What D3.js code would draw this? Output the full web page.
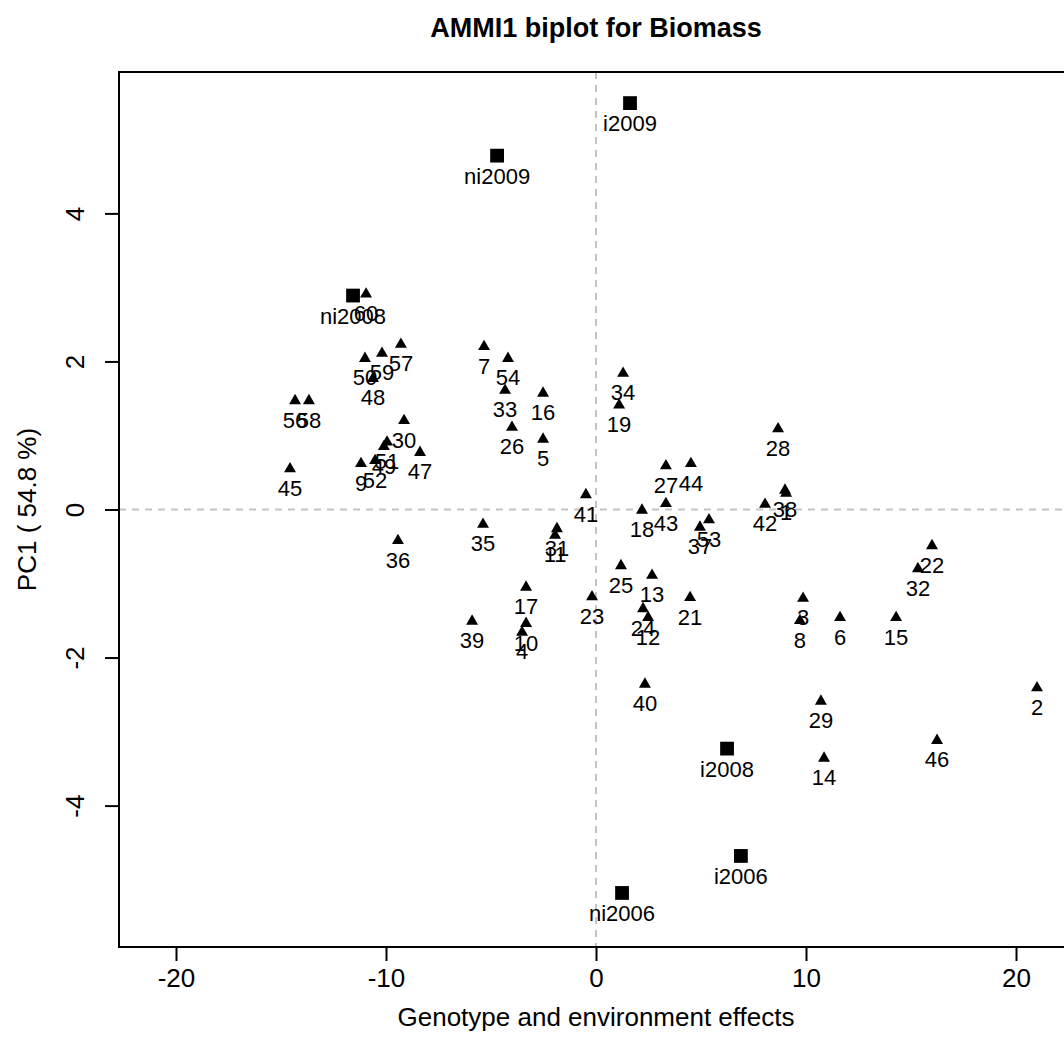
<!DOCTYPE html>
<html>
<head>
<meta charset="utf-8">
<script src="https://cdn.jsdelivr.net/npm/d3@7"></script>
<style>
  body { margin: 0; background: #fff; }
  text { font-family: "Liberation Sans", Arial, sans-serif; }
</style>
</head>
<body>
<svg id="biplot" width="1064" height="1061"></svg>
<script>
// genotypes (triangles)
const genoNames = ["1","2","3","4","5","6","7","8","9","10","11","12","13","14","15","16","17","18","19",
  "21","22","23","24","25","26","27","28","29","30","31","32","33","34","35","36","37","38","39","40",
  "41","42","43","44","45","46","47","48","49","50","51","52","53","54","56","57","58","59","60"];
const genoX = [9.05,21.0,9.86,-3.52,-2.52,11.62,-5.33,9.71,-11.19,-3.33,-1.95,2.48,2.67,10.86,14.29,-2.52,-3.33,2.19,1.10,
  4.48,16.0,-0.19,2.24,1.19,-4.0,3.33,8.67,10.71,-9.14,-1.86,15.33,-4.33,1.29,-5.38,-9.43,4.95,9.0,-5.90,2.33,
  -0.48,8.05,3.33,4.52,-14.57,16.24,-8.38,-10.62,-10.10,-11.0,-9.95,-10.52,5.38,-4.19,-14.33,-9.29,-13.67,-10.19,-10.95];
const genoY = [0.22,-2.41,-1.20,-1.66,0.95,-1.46,2.20,-1.50,0.62,-1.54,-0.35,-1.46,-0.89,-3.36,-1.46,1.57,-1.05,-0.01,1.41,
  -1.19,-0.49,-1.18,-1.34,-0.76,1.11,0.59,1.09,-2.59,1.20,-0.26,-0.80,1.61,1.84,-0.20,-0.42,-0.24,0.26,-1.51,-2.36,
  0.20,0.07,0.08,0.62,0.55,-3.12,0.77,1.77,0.85,2.04,0.91,0.66,-0.14,2.04,1.47,2.23,1.47,2.11,2.91];

// environments (squares)
const envNames = ["i2009","ni2009","ni2008","i2008","i2006","ni2006"];
const envX = [1.62,-4.71,-11.57,6.24,6.90,1.24];
const envY = [5.49,4.78,2.89,-3.23,-4.68,-5.18];

const xTicks = [-20,-10,0,10,20];
const yTicks = [-4,-2,0,2,4];

const svg = d3.select("#biplot");
const margin = { top: 72, left: 119 };
const plotRight = 1073; // box runs past the picture edge
const plotBottom = 947;

const x = d3.scaleLinear().domain([-22.714, 22.714]).range([margin.left, plotRight]);
const y = d3.scaleLinear().domain([-5.91, 5.91]).range([plotBottom, margin.top]);

// plain hyphen for negatives, like R
const fmt = d => String(d);

// reference lines
svg.append("line")
  .attr("x1", margin.left).attr("x2", plotRight)
  .attr("y1", y(0)).attr("y2", y(0))
  .attr("stroke", "#c4c4c4").attr("stroke-width", 2).attr("stroke-dasharray", "7,6");
svg.append("line")
  .attr("x1", x(0)).attr("x2", x(0))
  .attr("y1", margin.top).attr("y2", plotBottom)
  .attr("stroke", "#c4c4c4").attr("stroke-width", 2).attr("stroke-dasharray", "7,6");

// box
svg.append("rect")
  .attr("x", margin.left).attr("y", margin.top)
  .attr("width", plotRight - margin.left).attr("height", plotBottom - margin.top)
  .attr("fill", "none").attr("stroke", "#000").attr("stroke-width", 2);

// axes
const xAxis = svg.append("g")
  .attr("transform", `translate(0,${plotBottom})`)
  .call(d3.axisBottom(x).tickValues(xTicks).tickSize(14).tickPadding(8).tickFormat(fmt));
const yAxis = svg.append("g")
  .attr("transform", `translate(${margin.left},0)`)
  .call(d3.axisLeft(y).tickValues(yTicks).tickSize(14).tickFormat(fmt));
[xAxis, yAxis].forEach(a => {
  a.select(".domain").remove();
  a.selectAll(".tick line").attr("stroke", "#000").attr("stroke-width", 2);
  a.selectAll(".tick text").attr("fill", "#000").style("font-size", "26px");
});
xAxis.selectAll(".tick text").attr("dy", "0.71em");
yAxis.selectAll(".tick text")
  .attr("x", null).attr("dy", null)
  .attr("text-anchor", "middle")
  .attr("transform", "translate(-44,0) rotate(-90) translate(0,9)");

// genotype points
const tri = d3.symbol().type(d3.symbolTriangle).size(62);
genoNames.forEach((n, i) => {
  svg.append("path")
    .attr("d", tri)
    .attr("transform", `translate(${x(genoX[i])},${y(genoY[i])})`)
    .attr("fill", "#000");
  svg.append("text")
    .attr("x", x(genoX[i])).attr("y", y(genoY[i]) + 27)
    .attr("text-anchor", "middle")
    .style("font-size", "22px")
    .text(n);
});

// environment points
const sq = d3.symbol().type(d3.symbolSquare).size(190);
envNames.forEach((n, i) => {
  svg.append("path")
    .attr("d", sq)
    .attr("transform", `translate(${x(envX[i])},${y(envY[i])})`)
    .attr("fill", "#000");
  svg.append("text")
    .attr("x", x(envX[i])).attr("y", y(envY[i]) + 28)
    .attr("text-anchor", "middle")
    .style("font-size", "22px")
    .text(n);
});

// titles
svg.append("text")
  .attr("x", x(0)).attr("y", 37)
  .attr("text-anchor", "middle")
  .style("font-size", "27px").style("font-weight", "bold")
  .text("AMMI1 biplot for Biomass");
svg.append("text")
  .attr("x", x(0)).attr("y", 1026)
  .attr("text-anchor", "middle")
  .style("font-size", "26px")
  .text("Genotype and environment effects");
svg.append("text")
  .attr("transform", `translate(36,${y(0)}) rotate(-90)`)
  .attr("text-anchor", "middle")
  .style("font-size", "26px")
  .text("PC1 ( 54.8 %)");
</script>
</body>
</html>
